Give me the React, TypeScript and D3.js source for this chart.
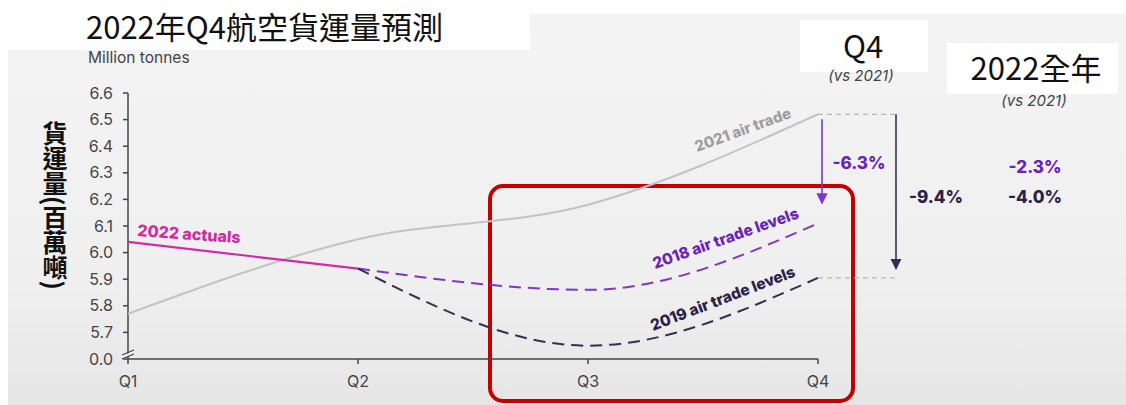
import React from "react";
import * as d3 from "d3";

const quarters = ["Q1", "Q2", "Q3", "Q4"];
const yTicks = [5.6, 5.7, 5.8, 5.9, 6.0, 6.1, 6.2, 6.3, 6.4, 6.5, 6.6];
const yTickLabels = ["0.0", "5.7", "5.8", "5.9", "6.0", "6.1", "6.2", "6.3", "6.4", "6.5", "6.6"];
const actualQ = ["Q1", "Q2"];
const actual2022 = [6.04, 5.94];
const airTrade2021 = [5.77, 6.05, 6.18, 6.52];
const forecastQ = ["Q2", "Q3", "Q4"];
const levels2018 = [5.94, 5.86, 6.11];
const levels2019 = [5.94, 5.65, 5.905];
const q4Changes = ["-6.3%", "-9.4%"];
const yearChanges = ["-2.3%", "-4.0%"];
const yTitle = "貨運量(百萬噸)";

const W = 1126;
const H = 405;
const SANS = "Inter, 'Open Sans', Roboto, sans-serif";
const CJK = "'Noto Sans CJK TC', 'Noto Sans CJK SC', sans-serif";
const MAGENTA = "#d42a9f";
const PURPLE = "#7b37c9";
const PURPLE_T = "#6a22b8";
const NAVY = "#34304f";
const NAVY_T = "#2b2148";
const GRAY = "#c3c3c3";

export default function App() {
  const x = d3.scalePoint<string>().domain(quarters).range([128, 818]);
  const y = d3.scaleLinear().domain([5.6, 6.6]).range([359, 93]);

  const line = d3
    .line<[string, number]>()
    .x((d) => x(d[0]) as number)
    .y((d) => y(d[1]))
    .curve(d3.curveMonotoneX);

  const straight = d3
    .line<[string, number]>()
    .x((d) => x(d[0]) as number)
    .y((d) => y(d[1]));

  const pAct = straight(actualQ.map((q, i) => [q, actual2022[i]]));
  const p2021 = line(quarters.map((q, i) => [q, airTrade2021[i]]));
  const p2018 = line(forecastQ.map((q, i) => [q, levels2018[i]]));
  const p2019 = line(forecastQ.map((q, i) => [q, levels2019[i]]));

  const x0 = x("Q1") as number;
  const xQ4 = x("Q4") as number;
  const yBase = y(5.6);
  const yTop2021 = y(airTrade2021[3]);
  const yEnd2019 = y(levels2019[2]);
  const yEnd2018 = y(levels2018[2]);

  return (
    <svg
      width={W}
      height={H}
      style={{ position: "absolute", left: 0, top: 0, display: "block" }}
    >
      <defs>
        <linearGradient id="bg" x1="0" y1="0" x2="0" y2="1">
          <stop offset="0" stopColor="#f4f4f4" />
          <stop offset="0.7" stopColor="#efefef" />
          <stop offset="1" stopColor="#e6e6e6" />
        </linearGradient>
        <marker id="arP" viewBox="0 0 10 10" refX="9" refY="5" markerWidth="7" markerHeight="7" orient="auto">
          <path d="M0,0 L10,5 L0,10 z" fill={PURPLE} />
        </marker>
        <marker id="arN" viewBox="0 0 10 10" refX="9" refY="5" markerWidth="7" markerHeight="7" orient="auto">
          <path d="M0,0 L10,5 L0,10 z" fill={NAVY} />
        </marker>
      </defs>
      <rect x={0} y={0} width={W} height={H} fill="#ffffff" />
      <rect x={8} y={14} width={W - 8} height={H - 14} fill="url(#bg)" />

      {/* title */}
      <rect x={0} y={0} width={530} height={50} fill="#ffffff" />
      <text x={86} y={39} fontFamily={CJK} fontSize={31} fill="#111">
        2022年Q4航空貨運量預測
      </text>
      <text x={88} y={63} fontFamily={SANS} fontSize={15.5} fill="#444">
        Million tonnes
      </text>

      {/* y axis title */}
      <text
        x={55}
        y={121}
        fontFamily={CJK}
        fontWeight={700}
        fontSize={25}
        fill="#111"
        style={{ writingMode: "vertical-rl" }}
      >
        {yTitle}
      </text>

      {/* red highlight box */}
      <rect x={490} y={186} width={363} height={215} rx={13} fill="none" stroke="#c40000" strokeWidth={4} />

      {/* axes */}
      <line x1={x0} x2={x0} y1={y(6.6)} y2={yBase} stroke="#444" strokeWidth={1.5} />
      <line x1={x0} x2={xQ4} y1={yBase} y2={yBase} stroke="#444" strokeWidth={1.5} />
      {yTicks.map((t, i) => (
        <g key={t}>
          <line x1={x0 - 5} x2={x0} y1={y(t)} y2={y(t)} stroke="#444" strokeWidth={1.5} />
          <text x={x0 - 15} y={y(t) + 5.5} textAnchor="end" fontFamily={SANS} fontSize={16} fill="#444">
            {yTickLabels[i]}
          </text>
        </g>
      ))}
      {/* axis break */}
      <polygon points={`${x0 - 6},${yBase - 3} ${x0 + 6},${yBase - 8} ${x0 + 6},${yBase - 5} ${x0 - 6},${yBase}`} fill="#f0f0f0" />
      <line x1={x0 - 6} y1={yBase - 4} x2={x0 + 6} y2={yBase - 9} stroke="#444" strokeWidth={1.3} />
      <line x1={x0 - 6} y1={yBase} x2={x0 + 6} y2={yBase - 5} stroke="#444" strokeWidth={1.3} />
      {quarters.map((q) => (
        <g key={q}>
          <line x1={x(q)} x2={x(q)} y1={yBase} y2={yBase + 5} stroke="#444" strokeWidth={1.5} />
          <text x={x(q)} y={yBase + 28} textAnchor="middle" fontFamily={SANS} fontSize={16} fill="#444">
            {q}
          </text>
        </g>
      ))}

      {/* lines */}
      <path d={p2021 || ""} fill="none" stroke={GRAY} strokeWidth={2} />
      <path d={p2018 || ""} fill="none" stroke={PURPLE} strokeWidth={2} strokeDasharray="12 7" />
      <path d={p2019 || ""} fill="none" stroke={NAVY} strokeWidth={2} strokeDasharray="12 7" />
      <path d={pAct || ""} fill="none" stroke={MAGENTA} strokeWidth={2.2} />

      {/* connectors */}
      <line x1={xQ4} x2={xQ4 + 80} y1={yTop2021} y2={yTop2021} stroke="#b5b5b5" strokeWidth={1.3} strokeDasharray="5 4" />
      <line x1={xQ4} x2={xQ4 + 80} y1={yEnd2019} y2={yEnd2019} stroke="#b5b5b5" strokeWidth={1.3} strokeDasharray="5 4" />

      {/* arrows */}
      <line x1={xQ4 + 4} x2={xQ4 + 4} y1={yTop2021 + 5} y2={yEnd2018 - 20} stroke={PURPLE} strokeWidth={1.6} markerEnd="url(#arP)" />
      <line x1={xQ4 + 78} x2={xQ4 + 78} y1={yTop2021} y2={yEnd2019 - 9} stroke={NAVY} strokeWidth={1.6} markerEnd="url(#arN)" />

      {/* line labels */}
      <g fontFamily={SANS} fontWeight={800} fontSize={16}>
        <text transform={`translate(137,236) rotate(4)`} fill={MAGENTA}>2022 actuals</text>
        <text transform={`translate(697,152) rotate(-20)`} fill="#9e9e9e" fontSize={15}>2021 air trade</text>
        <text transform={`translate(655,269) rotate(-19.5)`} fill={PURPLE_T} fontSize={15.5}>2018 air trade levels</text>
        <text transform={`translate(653,331) rotate(-21)`} fill={NAVY_T} fontSize={15.5}>2019 air trade levels</text>
      </g>

      {/* header boxes */}
      <rect x={800} y={20} width={128} height={52} fill="#ffffff" />
      <text x={863} y={58} textAnchor="middle" fontFamily={CJK} fontSize={31} fill="#111">Q4</text>
      <text x={861} y={81} textAnchor="middle" fontFamily={SANS} fontStyle="italic" fontSize={15} fill="#444">(vs 2021)</text>
      <rect x={947} y={43} width={171} height={51} fill="#ffffff" />
      <text x={1036} y={80} textAnchor="middle" fontFamily={CJK} fontSize={31} fill="#111">2022全年</text>
      <text x={1034} y={106} textAnchor="middle" fontFamily={SANS} fontStyle="italic" fontSize={15} fill="#444">(vs 2021)</text>

      {/* change values */}
      <g fontFamily={SANS} fontWeight={800} fontSize={17} textAnchor="middle">
        <text x={859} y={169} fill={PURPLE_T}>{q4Changes[0]}</text>
        <text x={936} y={203} fill={NAVY_T}>{q4Changes[1]}</text>
        <text x={1035} y={173} fill={PURPLE_T}>{yearChanges[0]}</text>
        <text x={1035} y={203} fill={NAVY_T}>{yearChanges[1]}</text>
      </g>
    </svg>
  );
}
